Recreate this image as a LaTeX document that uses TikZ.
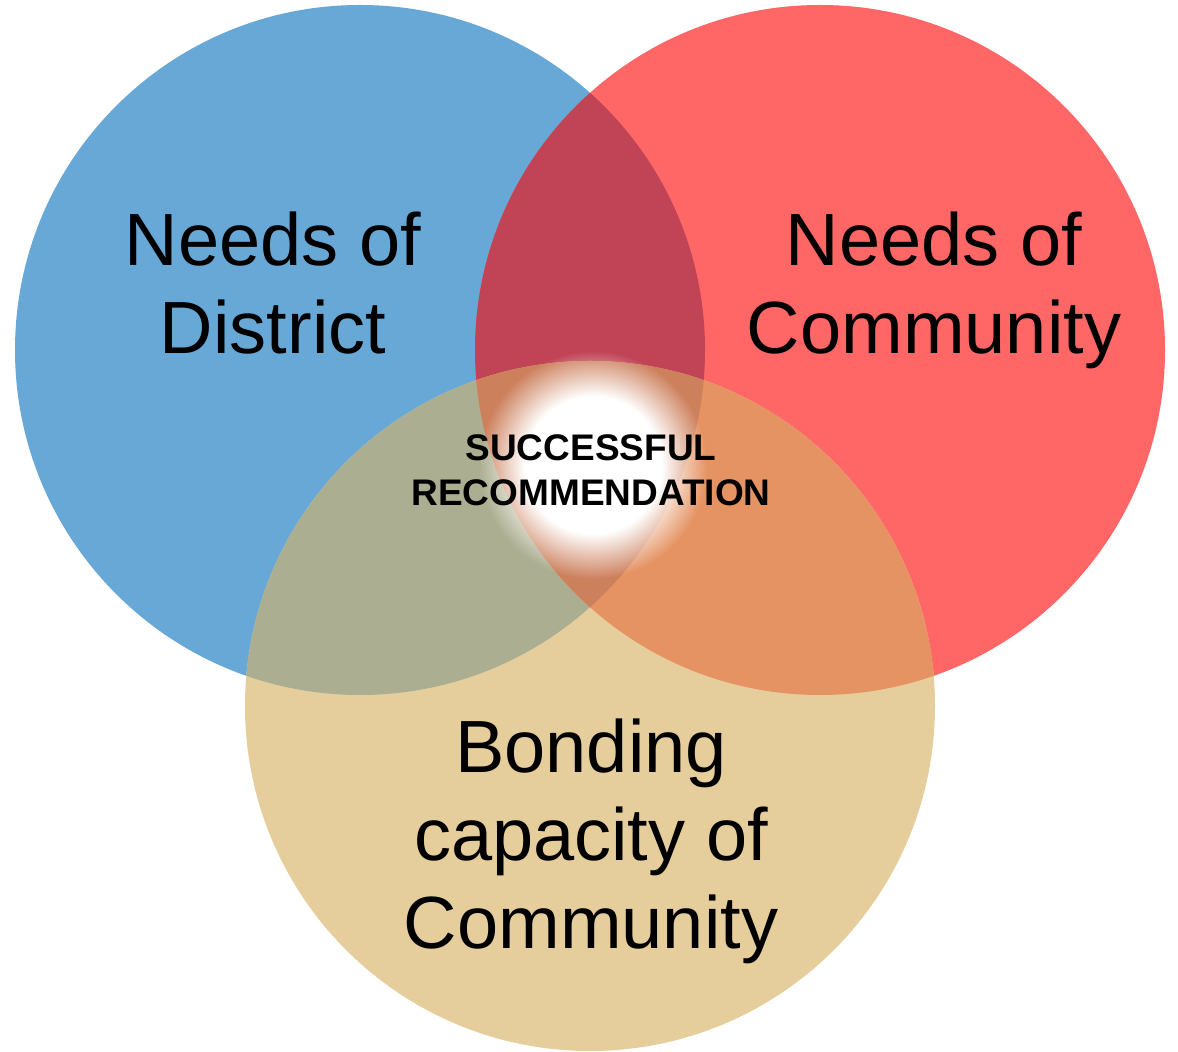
\documentclass[tikz,border=0pt]{standalone}
\usepackage{fontspec}
\setmainfont{Liberation Sans}
\usetikzlibrary{fadings}
\definecolor{distblue}{RGB}{103,168,214}
\definecolor{commred}{RGB}{255,102,102}
\definecolor{bondtan}{RGB}{230,206,156}
\definecolor{bluered}{RGB}{192,68,86}
\definecolor{bluetan}{RGB}{171,174,144}
\definecolor{redtan}{RGB}{229,147,98}
\definecolor{allthree}{RGB}{205,128,92}
\pgfdeclareradialshading{glowshade}{\pgfpointorigin}{color(0bp)=(white); color(15bp)=(white); color(25bp)=(black); color(50bp)=(black)}
\pgfdeclarefading{glowfade}{\pgfuseshading{glowshade}}
\begin{document}
\begin{tikzpicture}[x=0.5pt,y=-0.5pt]
\useasboundingbox (0,0) rectangle (1178,1052);
\tikzset{big/.style={anchor=north,inner sep=0pt,align=center,font=\fontsize{37}{44}\selectfont},
         small/.style={anchor=north,inner sep=0pt,align=center,font=\bfseries\fontsize{18.5}{22.5}\selectfont}}
\def\blue{(360,350) circle (345)}
\def\red{(820,350) circle (345)}
\def\tan{(590,706) circle (345)}
% the three circles
\fill[distblue] \blue;
\fill[commred] \red;
\fill[bondtan] \tan;
% overlaps
\begin{scope}
\clip \blue;
\fill[bluered] \red;
\fill[bluetan] \tan;
\end{scope}
\begin{scope}
\clip \red;
\fill[redtan] \tan;
\clip \blue;
\fill[allthree] \tan;
\end{scope}
% white glow in the middle
\fill[white,path fading=glowfade] (593,465) circle (114);
% labels
\node[big] (district) at (273,211) {Needs of\\District};
\node[big] (community) at (934,211) {Needs of\\Community};
\node[big] (bonding) at (591,718) {Bonding\\capacity of\\Community};
\node[small] (success) at (591,434) {SUCCESSFUL\\RECOMMENDATION};
\end{tikzpicture}
\end{document}
